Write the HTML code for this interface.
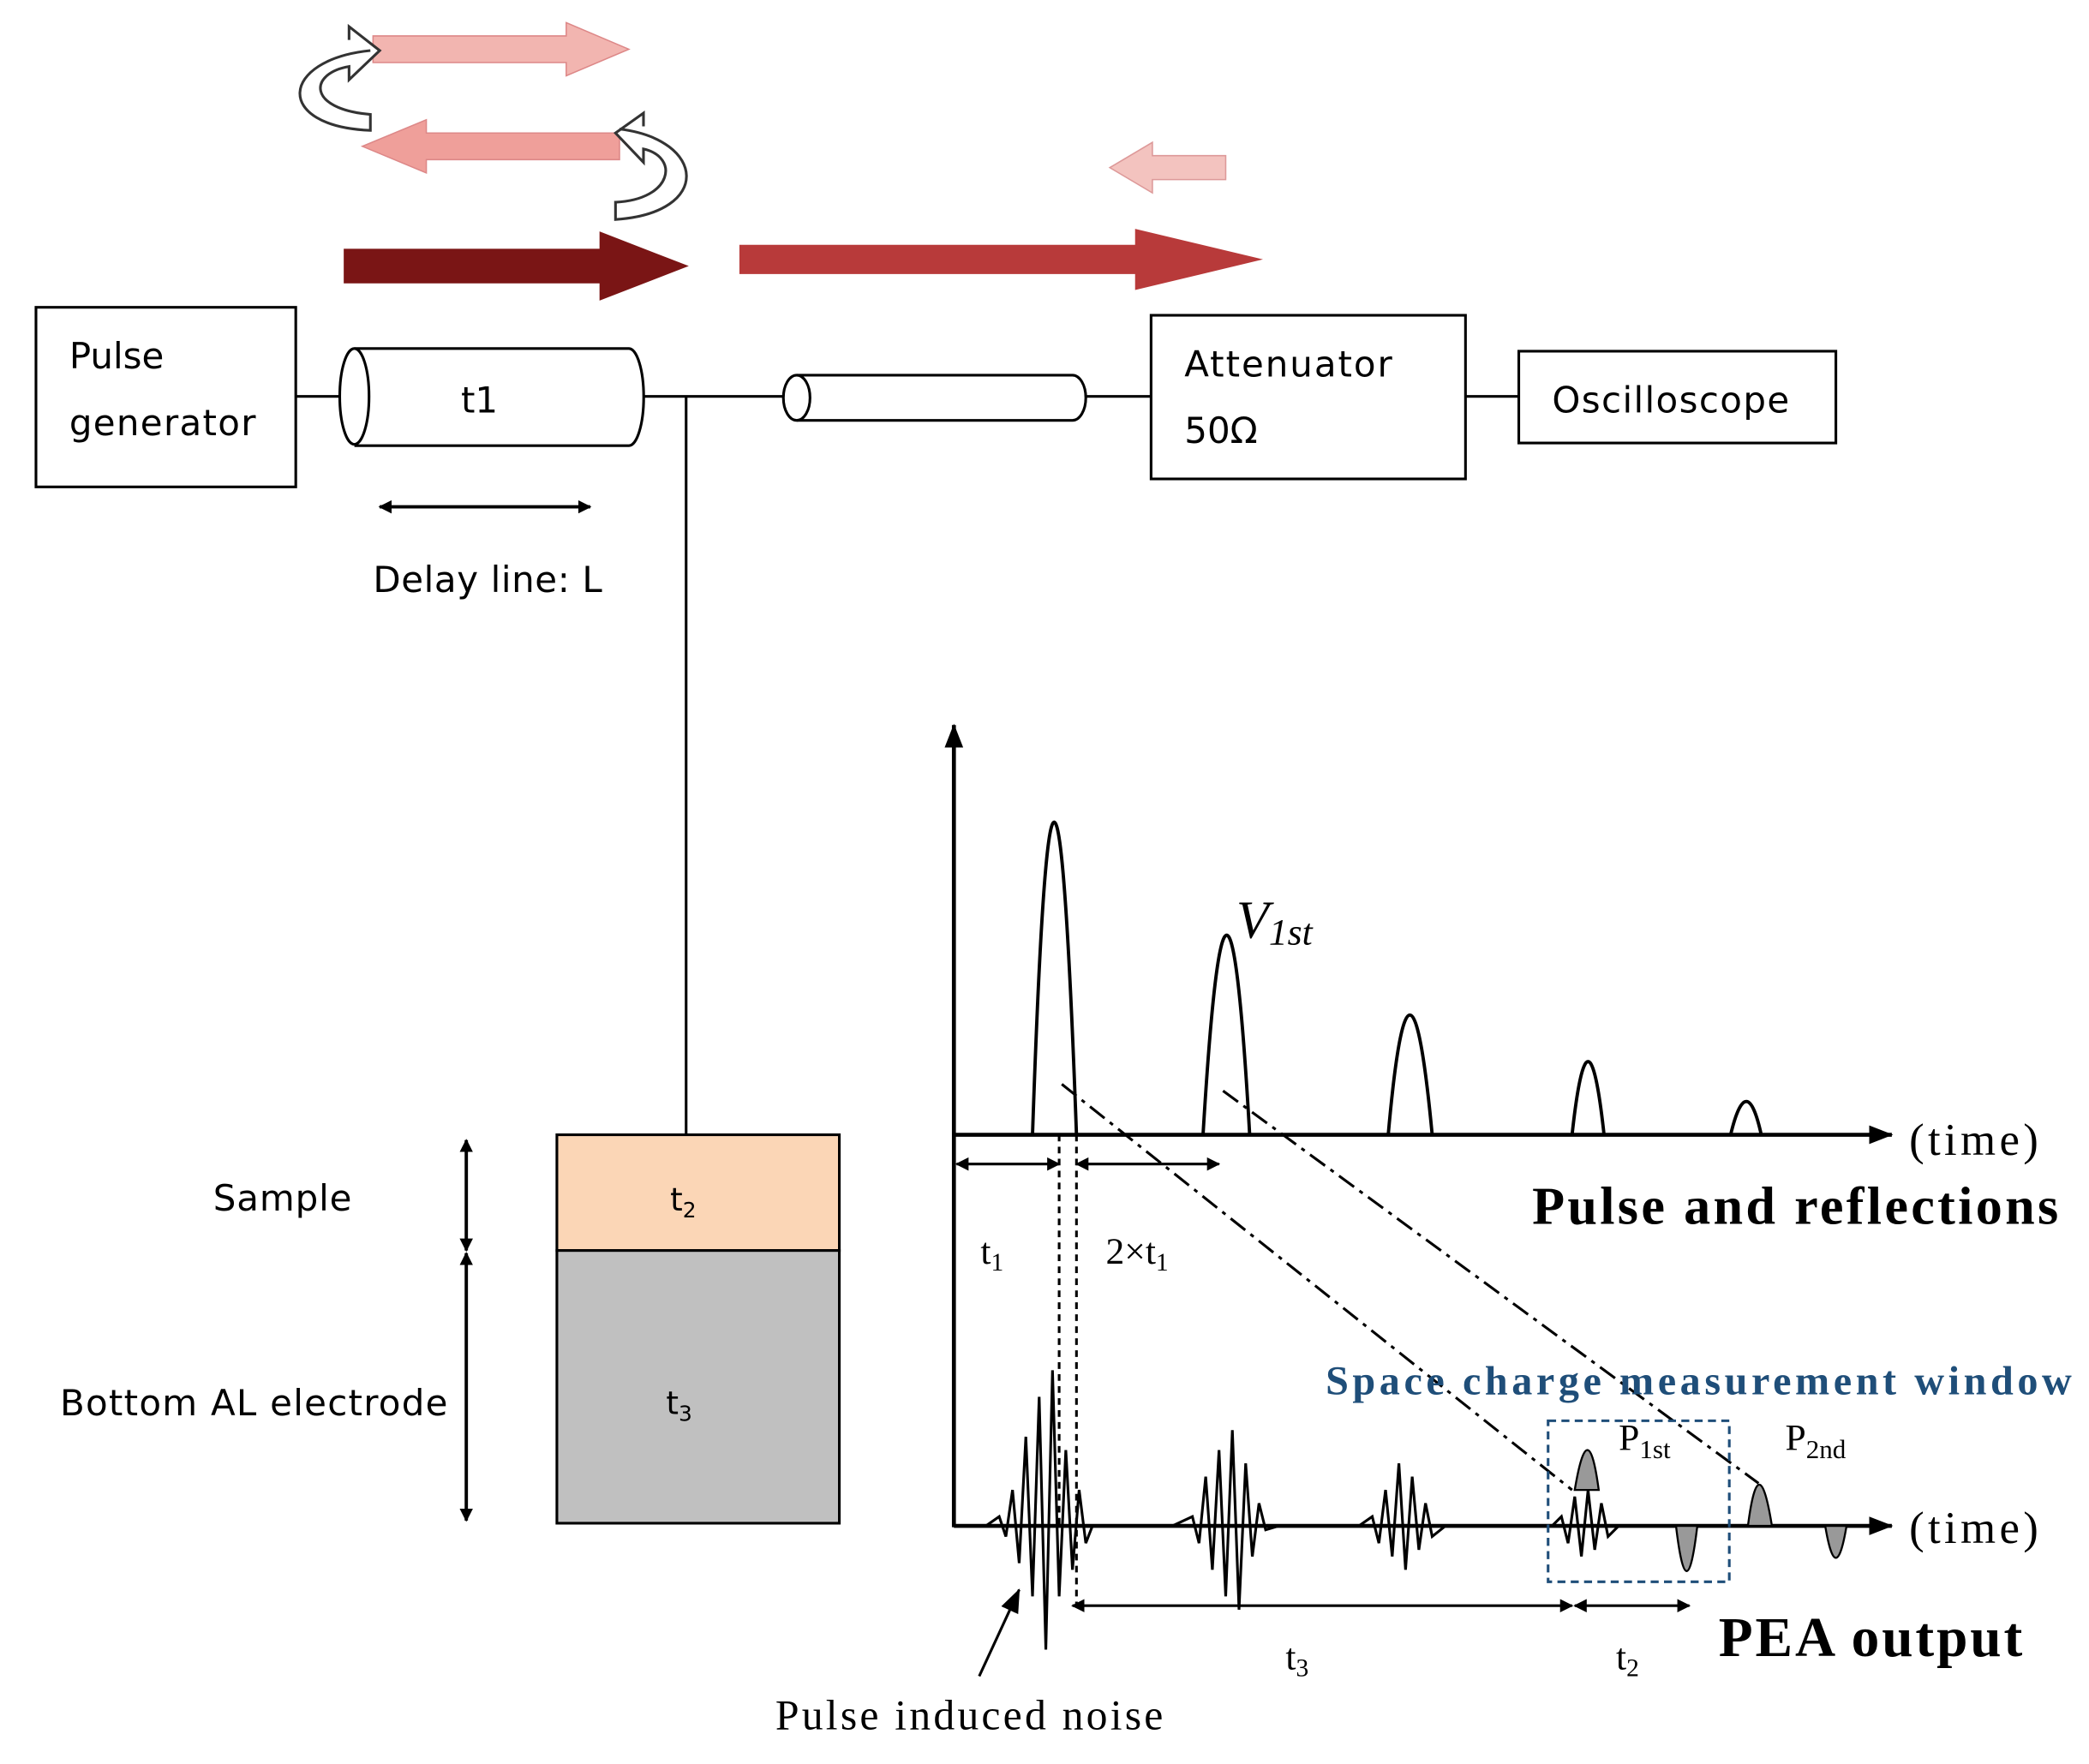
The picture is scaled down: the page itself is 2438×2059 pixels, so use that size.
<!DOCTYPE html>
<html><head><meta charset="utf-8"><style>html,body{margin:0;padding:0;background:#fff}svg{display:block}</style></head>
<body>
<svg width="2438" height="2059" viewBox="0 0 1568 1326" preserveAspectRatio="none" xmlns="http://www.w3.org/2000/svg">
<defs>
<marker id="ah" markerWidth="10" markerHeight="10" refX="9" refY="5" orient="auto-start-reverse" markerUnits="userSpaceOnUse"><path d="M0,0 L10,5 L0,10 z" fill="#000"/></marker>
<marker id="ax" markerWidth="18" markerHeight="14" refX="17" refY="7" orient="auto" markerUnits="userSpaceOnUse"><path d="M0,0 L18,7 L0,14 z" fill="#000"/></marker>
</defs>
<rect width="1568" height="1326" fill="#fff"/>
<!-- top arrows -->
<polygon points="280,27 425,27 425,17 472,37 425,57 425,47 280,47" fill="#f2b5b0" stroke="#d88" stroke-width="1"/>
<polygon points="465,100 320,100 320,90 272,110 320,130 320,120 465,120" fill="#ef9f9a" stroke="#d88" stroke-width="1"/>
<polygon points="920,117 865,117 865,107 833,126 865,145 865,135 920,135" fill="#f3c3bf" stroke="#d99" stroke-width="1"/>
<polygon points="258,187 450,187 450,174 517,200 450,226 450,213 258,213" fill="#7a1515"/>
<polygon points="555,184 852,184 852,172 948,195 852,218 852,206 555,206" fill="#b83a3a"/>
<path d="M278,38 C210,45 205,95 278,98 L278,86 C230,82 232,55 262,50 L262,60 L285,38 L262,20 L262,30" fill="#fff" stroke="#333" stroke-width="2"/>
<path d="M465,97 C530,105 535,160 462,165 L462,152 C505,150 510,118 483,112 L483,122 L462,100 L483,85 L483,95" fill="#fff" stroke="#333" stroke-width="2"/>
<!-- circuit -->
<g font-family="'DejaVu Sans','Liberation Sans',sans-serif" font-size="27" fill="#000">
<rect x="27" y="231" width="195" height="135" fill="#fff" stroke="#000" stroke-width="2"/>
<text x="52" y="277">Pulse</text><text x="52" y="327" textLength="140">generator</text>
<line x1="222" y1="298" x2="258" y2="298" stroke="#000" stroke-width="2"/>
<path d="M266,262 L472,262 A11,36 0 0 1 472,335 L266,335" fill="#fff" stroke="#000" stroke-width="2"/>
<ellipse cx="266" cy="298" rx="11" ry="36" fill="#fff" stroke="#000" stroke-width="2"/>
<text x="346" y="310">t1</text>
<line x1="483" y1="298" x2="590" y2="298" stroke="#000" stroke-width="2"/>
<line x1="515" y1="298" x2="515" y2="853" stroke="#000" stroke-width="2"/>
<path d="M598,282 L805,282 A10,17 0 0 1 805,316 L598,316" fill="#fff" stroke="#000" stroke-width="2"/>
<ellipse cx="598" cy="299" rx="10" ry="17" fill="#fff" stroke="#000" stroke-width="2"/>
<line x1="815" y1="298" x2="864" y2="298" stroke="#000" stroke-width="2"/>
<rect x="864" y="237" width="236" height="123" fill="#fff" stroke="#000" stroke-width="2"/>
<text x="889" y="283" textLength="156">Attenuator</text><text x="889" y="333">50Ω</text>
<line x1="1100" y1="298" x2="1140" y2="298" stroke="#000" stroke-width="2"/>
<rect x="1140" y="264" width="238" height="69" fill="#fff" stroke="#000" stroke-width="2"/>
<text x="1165" y="310" textLength="178">Oscilloscope</text>
<line x1="285" y1="381" x2="443" y2="381" stroke="#000" stroke-width="2.5" marker-start="url(#ah)" marker-end="url(#ah)"/>
<text x="280" y="445" textLength="172">Delay line: L</text>
<text x="160" y="910" textLength="104">Sample</text>
<text x="45" y="1064" textLength="291">Bottom AL electrode</text>
</g>
<!-- sample -->
<rect x="418" y="853" width="212" height="87" fill="#fbd6b6" stroke="#000" stroke-width="2"/>
<rect x="418" y="940" width="212" height="205" fill="#c0c0c0" stroke="#000" stroke-width="2"/>
<text x="503" y="910" font-family="'DejaVu Sans',sans-serif" font-size="24">t<tspan font-size="16" dy="5">2</tspan></text>
<text x="500" y="1063" font-family="'DejaVu Sans',sans-serif" font-size="24">t<tspan font-size="16" dy="5">3</tspan></text>
<line x1="350" y1="857" x2="350" y2="940" stroke="#000" stroke-width="2.5" marker-start="url(#ah)" marker-end="url(#ah)"/>
<line x1="350" y1="942" x2="350" y2="1143" stroke="#000" stroke-width="2.5" marker-start="url(#ah)" marker-end="url(#ah)"/>
<!-- axes -->
<g stroke="#000" stroke-width="3" fill="none">
<line x1="716" y1="1148" x2="716" y2="545" marker-end="url(#ax)"/>
<line x1="716" y1="853" x2="1420" y2="853" marker-end="url(#ax)"/>
<line x1="716" y1="1147" x2="1420" y2="1147" marker-end="url(#ax)"/>
</g>
<g stroke="#000" stroke-width="2.5" fill="none">
<path d="M775,853 Q791,383 808,853"/>
<path d="M903,853 Q921,553 938,853"/>
<path d="M1042,853 Q1058,673 1075,853"/>
<path d="M1180,853 Q1192,743 1204,853"/>
<path d="M1299,853 Q1311,803 1322,853"/>
</g>
<g stroke="#000" stroke-width="2" fill="none">
<line x1="718" y1="875" x2="795" y2="875" marker-start="url(#ah)" marker-end="url(#ah)"/>
<line x1="808" y1="875" x2="915" y2="875" marker-start="url(#ah)" marker-end="url(#ah)"/>
<line x1="805" y1="1207" x2="1180" y2="1207" marker-start="url(#ah)" marker-end="url(#ah)"/>
<line x1="1182" y1="1207" x2="1268" y2="1207" marker-start="url(#ah)" marker-end="url(#ah)"/>
<line x1="795" y1="853" x2="795" y2="1150" stroke-dasharray="5,4"/>
<line x1="808" y1="853" x2="808" y2="1207" stroke-dasharray="5,4"/>
<line x1="797" y1="815" x2="1180" y2="1120" stroke-dasharray="14,5,3,5"/>
<line x1="918" y1="820" x2="1320" y2="1115" stroke-dasharray="14,5,3,5"/>
<rect x="1162" y="1068" width="136" height="121" stroke="#1f4e79" stroke-dasharray="6,4"/>
<line x1="735" y1="1260" x2="765" y2="1195" marker-end="url(#ax)"/>
</g>
<!-- noise bursts -->
<g stroke="#000" stroke-width="2" fill="none">
<path d="M740,1147 L750,1140 L755,1155 L760,1120 L765,1175 L770,1080 L775,1200 L780,1050 L785,1240 L790,1030 L795,1200 L800,1090 L805,1180 L810,1120 L815,1160 L820,1147"/>
<path d="M880,1147 L895,1140 L900,1160 L905,1110 L910,1180 L915,1090 L920,1200 L925,1075 L930,1210 L935,1100 L940,1170 L945,1130 L950,1150 L960,1147"/>
<path d="M1020,1147 L1030,1140 L1035,1160 L1040,1120 L1045,1170 L1050,1100 L1055,1180 L1060,1110 L1065,1165 L1070,1130 L1075,1155 L1085,1147"/>
<path d="M1165,1147 L1172,1140 L1177,1160 L1182,1125 L1187,1170 L1192,1120 L1197,1165 L1202,1130 L1207,1155 L1215,1147 L1225,1147"/>
</g>
<g stroke="#000" stroke-width="1.5" fill="#999">
<path d="M1182,1120 Q1192,1060 1200,1120 z"/>
<path d="M1258,1147 Q1266,1215 1274,1147 z"/>
<path d="M1312,1147 Q1320,1085 1330,1147 z"/>
<path d="M1370,1147 Q1378,1195 1386,1147 z"/>
</g>
<g font-family="'Liberation Serif',serif" fill="#000">
<text x="928" y="705" font-size="40" font-style="italic">V<tspan font-size="28" dy="5">1st</tspan></text>
<text x="1433" y="868" font-size="34" textLength="97">(time)</text>
<text x="1433" y="1160" font-size="34" textLength="97">(time)</text>
<text x="1150" y="920" font-size="40" font-weight="bold" textLength="395">Pulse and reflections</text>
<text x="1290" y="1245" font-size="42" font-weight="bold" textLength="228">PEA output</text>
<text x="995" y="1048" font-size="31" font-weight="bold" fill="#1f4e79" textLength="560">Space charge measurement window</text>
<text x="1215" y="1090" font-size="28">P<tspan font-size="20" dy="6">1st</tspan></text>
<text x="1340" y="1090" font-size="28">P<tspan font-size="20" dy="6">2nd</tspan></text>
<text x="736" y="950" font-size="28">t<tspan font-size="19" dy="5">1</tspan></text>
<text x="830" y="950" font-size="28">2×t<tspan font-size="19" dy="5">1</tspan></text>
<text x="965" y="1255" font-size="28">t<tspan font-size="19" dy="5">3</tspan></text>
<text x="1213" y="1255" font-size="28">t<tspan font-size="19" dy="5">2</tspan></text>
<text x="582" y="1300" font-size="32" textLength="291">Pulse induced noise</text>
</g>
</svg>
</body></html>
